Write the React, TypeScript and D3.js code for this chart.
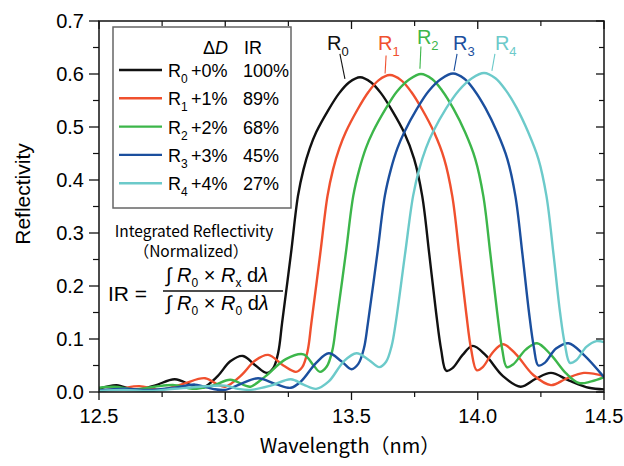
import React from 'react';
import * as d3 from 'd3';

// axis ticks
const wavelengthTicks = [12.5, 13.0, 13.5, 14.0, 14.5];
const wavelengthMinor = [12.75, 13.25, 13.75, 14.25];
const reflectivityTicks = [0, 0.1, 0.2, 0.3, 0.4, 0.5, 0.6, 0.7];
const reflectivityMinor = [0.05, 0.15, 0.25, 0.35, 0.45, 0.55, 0.65];

// legend
const subscripts = ['0', '1', '2', '3', '4'];
const deltaD = ['+0%', '+1%', '+2%', '+3%', '+4%'];
const integratedR = ['100%', '89%', '68%', '45%', '27%'];
const colors = ['#111111', '#f0502e', '#3cb64a', '#1b4f9e', '#6ccaca'];

// [wavelength (nm), reflectivity]
const r0: [number, number][] = [
  [12.5, 0.006], [12.57, 0.013], [12.64, 0.004], [12.72, 0.012], [12.8, 0.024], [12.87, 0.012],
  [12.91, 0.008], [12.97, 0.03], [13.02, 0.058], [13.07, 0.068], [13.12, 0.05], [13.165, 0.036],
  [13.19, 0.045], [13.21, 0.075], [13.225, 0.13], [13.26, 0.26], [13.288, 0.37], [13.31, 0.42],
  [13.335, 0.46], [13.36, 0.49], [13.407, 0.531], [13.45, 0.563], [13.49, 0.584], [13.534, 0.594],
  [13.578, 0.584], [13.618, 0.563], [13.661, 0.531], [13.708, 0.49], [13.748, 0.44], [13.78, 0.37],
  [13.808, 0.26], [13.835, 0.15], [13.855, 0.08], [13.875, 0.04], [13.9, 0.045], [13.94, 0.07],
  [13.98, 0.087], [14.03, 0.07], [14.1, 0.03], [14.17, 0.01], [14.23, 0.025], [14.29, 0.036],
  [14.36, 0.022], [14.44, 0.008], [14.5, 0.005],
];
const r1: [number, number][] = [
  [12.5, 0.003], [12.58, 0.006], [12.66, 0.011], [12.74, 0.004], [12.83, 0.015], [12.92, 0.026],
  [12.97, 0.014], [13.0, 0.01], [13.06, 0.03], [13.12, 0.06], [13.17, 0.07], [13.23, 0.05],
  [13.28, 0.038], [13.305, 0.047], [13.326, 0.077], [13.341, 0.13], [13.376, 0.26], [13.405, 0.37],
  [13.427, 0.42], [13.452, 0.46], [13.477, 0.49], [13.524, 0.533], [13.567, 0.566], [13.607, 0.588],
  [13.652, 0.598], [13.697, 0.588], [13.737, 0.566], [13.78, 0.533], [13.827, 0.49], [13.867, 0.44],
  [13.899, 0.37], [13.927, 0.26], [13.954, 0.15], [13.974, 0.08], [13.996, 0.041], [14.02, 0.047],
  [14.06, 0.075], [14.1, 0.09], [14.15, 0.072], [14.22, 0.032], [14.29, 0.013], [14.35, 0.025],
  [14.42, 0.036], [14.5, 0.03],
];
const r2: [number, number][] = [
  [12.5, 0.008], [12.56, 0.01], [12.64, 0.005], [12.72, 0.01], [12.8, 0.013], [12.87, 0.006],
  [12.95, 0.012], [13.02, 0.023], [13.08, 0.012], [13.1, 0.01], [13.16, 0.03], [13.24, 0.062],
  [13.31, 0.071], [13.35, 0.05], [13.375, 0.038], [13.402, 0.048], [13.424, 0.078], [13.44, 0.13],
  [13.477, 0.26], [13.507, 0.37], [13.531, 0.42], [13.557, 0.46], [13.584, 0.49], [13.635, 0.534],
  [13.68, 0.567], [13.73, 0.59], [13.775, 0.6], [13.82, 0.59], [13.86, 0.568], [13.903, 0.535],
  [13.95, 0.49], [13.99, 0.44], [14.022, 0.37], [14.05, 0.26], [14.077, 0.15], [14.097, 0.08],
  [14.115, 0.047], [14.14, 0.052], [14.19, 0.08], [14.235, 0.092], [14.29, 0.07], [14.35, 0.035],
  [14.4, 0.017], [14.45, 0.02], [14.5, 0.028],
];
const r3: [number, number][] = [
  [12.5, 0.003], [12.6, 0.006], [12.7, 0.004], [12.8, 0.008], [12.88, 0.014], [12.95, 0.006],
  [13.0, 0.004], [13.06, 0.015], [13.13, 0.026], [13.2, 0.015], [13.26, 0.008], [13.3, 0.02],
  [13.36, 0.055], [13.41, 0.073], [13.46, 0.058], [13.5, 0.043], [13.527, 0.053], [13.549, 0.082],
  [13.565, 0.13], [13.602, 0.26], [13.632, 0.37], [13.656, 0.42], [13.682, 0.46], [13.709, 0.49],
  [13.76, 0.535], [13.806, 0.568], [13.856, 0.591], [13.902, 0.601], [13.947, 0.591], [13.987, 0.569],
  [14.03, 0.536], [14.077, 0.49], [14.117, 0.44], [14.149, 0.37], [14.177, 0.26], [14.203, 0.15],
  [14.222, 0.085], [14.24, 0.05], [14.265, 0.055], [14.31, 0.082], [14.36, 0.092], [14.42, 0.07],
  [14.5, 0.028],
];
const r4: [number, number][] = [
  [12.5, 0.002], [12.6, 0.004], [12.7, 0.002], [12.8, 0.006], [12.9, 0.01], [13.0, 0.012],
  [13.05, 0.006], [13.1, 0.004], [13.18, 0.012], [13.26, 0.024], [13.31, 0.014], [13.36, 0.006],
  [13.41, 0.02], [13.47, 0.058], [13.52, 0.073], [13.57, 0.06], [13.61, 0.047], [13.637, 0.057],
  [13.659, 0.087], [13.675, 0.13], [13.712, 0.26], [13.744, 0.37], [13.768, 0.42], [13.795, 0.46],
  [13.822, 0.49], [13.876, 0.536], [13.925, 0.569], [13.977, 0.592], [14.025, 0.602], [14.07, 0.592],
  [14.11, 0.57], [14.153, 0.537], [14.2, 0.49], [14.24, 0.44], [14.272, 0.37], [14.3, 0.26],
  [14.326, 0.15], [14.345, 0.09], [14.365, 0.055], [14.39, 0.06], [14.43, 0.085], [14.47, 0.096],
  [14.5, 0.094],
];
const series = [r0, r1, r2, r3, r4];

// curve labels (wavelength, reflectivity) and their leader lines
const labelAt: [number, number][] = [[13.403, 0.646], [13.605, 0.646], [13.759, 0.657], [13.902, 0.646], [14.068, 0.646]];
const leaderFrom: [number, number][] = [[13.454, 0.638], [13.637, 0.635], [13.775, 0.652], [13.918, 0.638], [14.068, 0.638]];
const leaderTo: [number, number][] = [[13.474, 0.591], [13.633, 0.601], [13.771, 0.61], [13.906, 0.606], [14.056, 0.606]];

const W = 624;
const H = 466;
const M = { left: 99, right: 604, top: 21, bottom: 392 };
const sans = '"Liberation Sans", Arial, sans-serif';
const gothic = '"Noto Sans CJK JP", "Noto Sans", sans-serif';

export default function App() {
  const x = d3.scaleLinear().domain([12.5, 14.5]).range([M.left, M.right]);
  const y = d3.scaleLinear().domain([0, 0.7]).range([M.bottom, M.top]);
  const line = d3.line<[number, number]>()
    .x(d => x(d[0]))
    .y(d => y(d[1]))
    .curve(d3.curveCatmullRom.alpha(0.5));

  const rowY = (i: number) => 70 + i * 28.3;

  return (
    <svg width={W} height={H} style={{ position: 'fixed', left: 0, top: 0, background: '#fff' }}
      fontFamily={sans}>
      <defs>
        <clipPath id="plot">
          <rect x={M.left} y={M.top} width={M.right - M.left} height={M.bottom - M.top} />
        </clipPath>
      </defs>

      {/* curves */}
      <g clipPath="url(#plot)">
        {series.map((s, i) => (
          <path key={i} d={line(s) || ''} fill="none" stroke={colors[i]} strokeWidth={2.4} />
        ))}
      </g>

      {/* frame */}
      <rect x={M.left} y={M.top} width={M.right - M.left} height={M.bottom - M.top}
        fill="none" stroke="#111" strokeWidth={1.5} />

      {/* x ticks */}
      {wavelengthTicks.map(t => (
        <g key={'xt' + t}>
          <line x1={x(t)} x2={x(t)} y1={M.bottom} y2={M.bottom + 8} stroke="#111" strokeWidth={1.3} />
          <line x1={x(t)} x2={x(t)} y1={M.top} y2={M.top + 8} stroke="#111" strokeWidth={1.3} />
          <text x={x(t)} y={423} textAnchor="middle" fontSize={20}>{t.toFixed(1)}</text>
        </g>
      ))}
      {wavelengthMinor.map(t => (
        <g key={'xm' + t}>
          <line x1={x(t)} x2={x(t)} y1={M.bottom} y2={M.bottom + 5} stroke="#111" strokeWidth={1.2} />
          <line x1={x(t)} x2={x(t)} y1={M.top} y2={M.top + 5} stroke="#111" strokeWidth={1.2} />
        </g>
      ))}

      {/* y ticks */}
      {reflectivityTicks.map(t => (
        <g key={'yt' + t}>
          <line x1={M.left - 10} x2={M.left} y1={y(t)} y2={y(t)} stroke="#111" strokeWidth={1.3} />
          <line x1={M.right - 8} x2={M.right} y1={y(t)} y2={y(t)} stroke="#111" strokeWidth={1.3} />
          <text x={84} y={y(t) + 7} textAnchor="end" fontSize={20}>{t.toFixed(1)}</text>
        </g>
      ))}
      {reflectivityMinor.map(t => (
        <g key={'ym' + t}>
          <line x1={M.left - 6} x2={M.left} y1={y(t)} y2={y(t)} stroke="#111" strokeWidth={1.2} />
          <line x1={M.right - 5} x2={M.right} y1={y(t)} y2={y(t)} stroke="#111" strokeWidth={1.2} />
        </g>
      ))}

      {/* axis titles */}
      <text transform="translate(30,194) rotate(-90)" textAnchor="middle" fontSize={21}>Reflectivity</text>
      <text x={350} y={453} textAnchor="middle" fontSize={20} fontFamily={gothic}>Wavelength（nm）</text>

      {/* curve labels */}
      {series.map((_, i) => (
        <g key={'lab' + i} fill={colors[i]}>
          <line x1={x(leaderFrom[i][0])} y1={y(leaderFrom[i][1])} x2={x(leaderTo[i][0])} y2={y(leaderTo[i][1])}
            stroke={colors[i]} strokeWidth={1.1} />
          <text x={x(labelAt[i][0])} y={y(labelAt[i][1])} fontSize={20}>
            R<tspan fontSize={13} dy={6}>{subscripts[i]}</tspan>
          </text>
        </g>
      ))}

      {/* legend */}
      <rect x={113} y={27} width={178} height={181} fill="#fff" stroke="#666" strokeWidth={1.5} />
      <text x={203} y={54} fontSize={18}>Δ<tspan fontStyle="italic">D</tspan></text>
      <text x={244} y={54} fontSize={18}>IR</text>
      {series.map((_, i) => (
        <g key={'leg' + i}>
          <line x1={119} x2={162} y1={rowY(i)} y2={rowY(i)} stroke={colors[i]} strokeWidth={2.4} />
          <text x={168} y={rowY(i) + 7} fontSize={18}>
            R<tspan fontSize={12} dy={6}>{subscripts[i]}</tspan>
          </text>
          <text x={191} y={rowY(i) + 7} fontSize={18}>{deltaD[i]}</text>
          <text x={243} y={rowY(i) + 7} fontSize={18}>{integratedR[i]}</text>
        </g>
      ))}

      {/* formula */}
      <text x={194} y={237} textAnchor="middle" fontSize={15.5} fontFamily={gothic}>Integrated Reflectivity</text>
      <text x={191} y={257} textAnchor="middle" fontSize={15.5} fontFamily={gothic}>（Normalized）</text>
      <text x={108} y={301} fontSize={21}>IR =</text>
      <text x={166} y={282} fontSize={20}>
        ∫ <tspan fontStyle="italic">R</tspan><tspan fontSize={12} dy={5}>0</tspan>
        <tspan dy={-5}> × </tspan><tspan fontStyle="italic">R</tspan><tspan fontSize={12} dy={5}>x</tspan>
        <tspan dy={-5}> d</tspan><tspan fontStyle="italic">λ</tspan>
      </text>
      <line x1={163} x2={283} y1={291} y2={291} stroke="#111" strokeWidth={1.3} />
      <text x={166} y={310} fontSize={20}>
        ∫ <tspan fontStyle="italic">R</tspan><tspan fontSize={12} dy={5}>0</tspan>
        <tspan dy={-5}> × </tspan><tspan fontStyle="italic">R</tspan><tspan fontSize={12} dy={5}>0</tspan>
        <tspan dy={-5}> d</tspan><tspan fontStyle="italic">λ</tspan>
      </text>
    </svg>
  );
}
